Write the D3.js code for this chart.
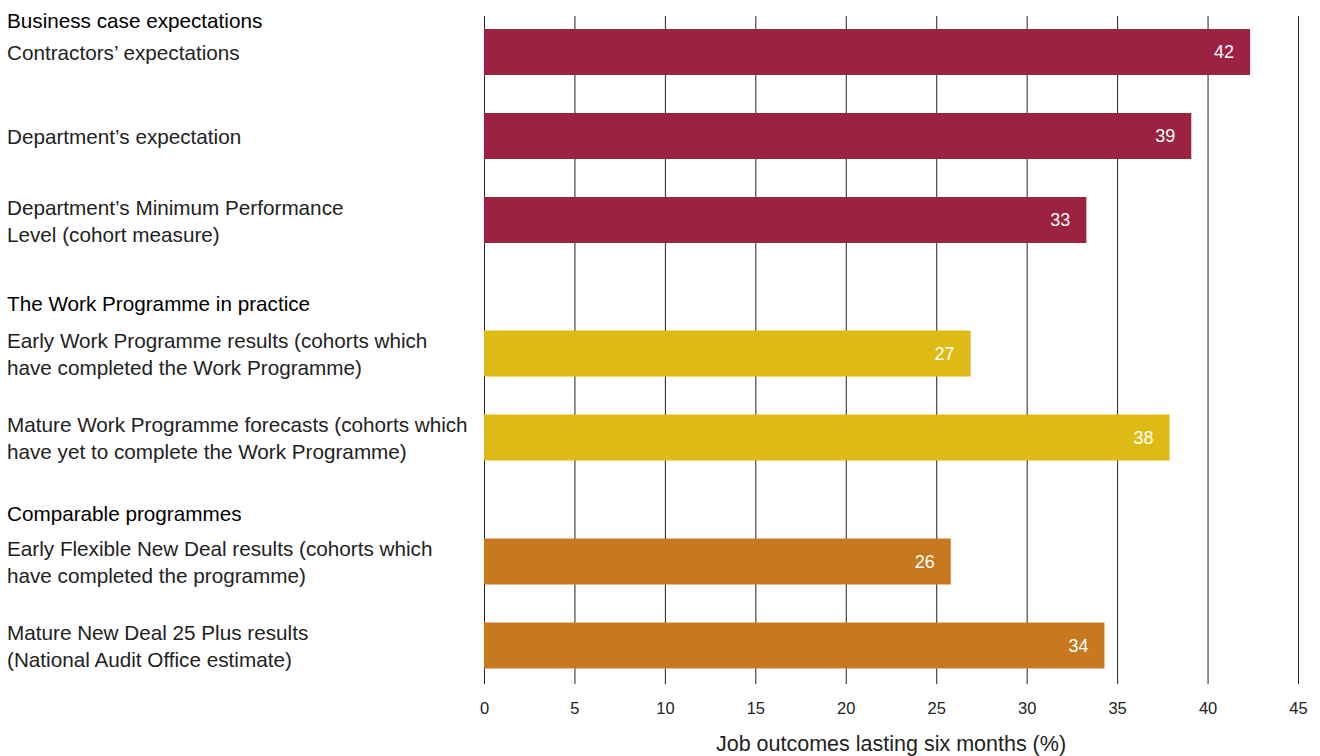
<!DOCTYPE html>
<html>
<head>
<meta charset="utf-8">
<script src="https://cdn.jsdelivr.net/npm/d3@7"></script>
<style>
  html, body { margin: 0; padding: 0; background: #fff; }
  svg { display: block; font-family: "Liberation Sans", Arial, sans-serif; }
</style>
</head>
<body>
<svg id="chart" width="1320" height="756"></svg>
<script>
// ---- data ----
const groups = ["Business case expectations", "The Work Programme in practice", "Comparable programmes"];
const groupColors = ["#9B2240", "#DEBA15", "#C8781F"];
const categories = [
  ["Contractors’ expectations"],
  ["Department’s expectation"],
  ["Department’s Minimum Performance", "Level (cohort measure)"],
  ["Early Work Programme results (cohorts which", "have completed the Work Programme)"],
  ["Mature Work Programme forecasts (cohorts which", "have yet to complete the Work Programme)"],
  ["Early Flexible New Deal results (cohorts which", "have completed the programme)"],
  ["Mature New Deal 25 Plus results", "(National Audit Office estimate)"]
];
const categoryGroup = [0, 0, 0, 1, 1, 2, 2];
const values = [42.35, 39.1, 33.3, 26.9, 37.9, 25.8, 34.3];
const valueLabels = ["42", "39", "33", "27", "38", "26", "34"];
const xTicks = [0, 5, 10, 15, 20, 25, 30, 35, 40, 45];
const xTitle = "Job outcomes lasting six months (%)";

// ---- layout ----
const svg = d3.select("#chart");
const x0 = 484, x1 = 1298, gridTop = 16, gridBottom = 684;
const barH = 46, step = 84, firstTop = 29;
const groupOffset = [0, 49.5, 89.5];   // extra space taken by group headings
const headerLift = [32, 37, 35];       // heading distance above first label line
const labelSize = 20.7;

const x = d3.scaleLinear().domain([0, 45]).range([x0, x1]);
const yIdx = d3.scaleLinear().domain([0, 1]).range([firstTop, firstTop + step]);
const yTop = (i) => yIdx(i) + groupOffset[categoryGroup[i]];

// gridlines + tick labels
const axis = d3.axisBottom(x).tickValues(xTicks).tickSize(-(gridBottom - gridTop)).tickPadding(18.5).tickFormat(d3.format("d"));
const ag = svg.append("g").attr("transform", `translate(0,${gridBottom})`).call(axis);
ag.select(".domain").remove();
ag.selectAll(".tick line").attr("stroke", "#222").attr("stroke-width", 1);
ag.selectAll(".tick text").attr("fill", "#222").attr("font-size", 16.5).attr("font-family", "Liberation Sans, Arial, sans-serif");

// bars
const data = values.map((v, i) => ({ v, i, g: categoryGroup[i], lab: valueLabels[i], cat: categories[i] }));
svg.append("g").selectAll("rect").data(data).join("rect")
  .attr("x", x(0)).attr("y", d => yTop(d.i))
  .attr("width", d => x(d.v) - x(0)).attr("height", barH)
  .attr("fill", d => groupColors[d.g]);

// value labels
svg.append("g").selectAll("text").data(data).join("text")
  .attr("x", d => x(d.v) - 16).attr("y", d => yTop(d.i) + barH / 2)
  .attr("dy", "0.35em").attr("text-anchor", "end")
  .attr("fill", "#fff").attr("font-size", 18)
  .text(d => d.lab);

// category labels
const lineH = 27;
const lg = svg.append("g");
data.forEach(d => {
  const cy = yTop(d.i) + barH / 2 + 1;
  const n = d.cat.length;
  d.cat.forEach((line, k) => {
    lg.append("text").attr("x", 7)
      .attr("y", cy + (k - (n - 1) / 2) * lineH)
      .attr("dy", "0.35em").attr("fill", "#222").attr("font-size", labelSize)
      .text(line);
  });
});

// group headers
groups.forEach((g, gi) => {
  const first = categoryGroup.indexOf(gi);
  const d = data[first];
  const cy = yTop(first) + barH / 2 + 1 - (d.cat.length - 1) / 2 * lineH;
  svg.append("text").attr("x", 7).attr("y", cy - headerLift[gi])
    .attr("dy", "0.35em").attr("fill", "#000").attr("font-size", labelSize)
    .text(g);
});

// axis title
svg.append("text").attr("x", (x0 + x1) / 2).attr("y", 743)
  .attr("dy", "0.35em").attr("text-anchor", "middle")
  .attr("fill", "#222").attr("font-size", 21.5).text(xTitle);
</script>
</body>
</html>
